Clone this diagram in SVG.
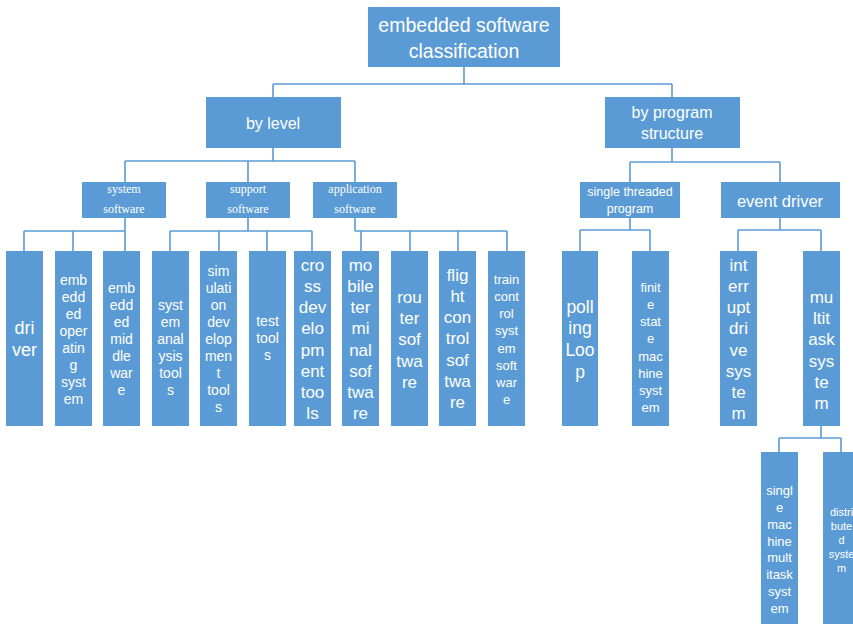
<svg xmlns="http://www.w3.org/2000/svg" width="853" height="624" viewBox="0 0 853 624">
<style>
.b{fill:#5B9BD5}
.t{fill:#fff;font-family:"Liberation Sans",Arial,sans-serif;text-anchor:middle;dominant-baseline:central}
.s{fill:#fff;font-family:"Liberation Serif","Times New Roman",serif;text-anchor:middle;dominant-baseline:central;font-size:12px}
.c{fill:none;stroke:#5B9BD5;stroke-width:1.6}
</style>
<rect width="853" height="624" fill="#fff"/>
<g id="connectors">
<path class="c" d="M464 67V84M273 84H672M273 84V97M672 84V97"/>
<path class="c" d="M273 148V161M125 161H355M125 161V182M248 161V182M355 161V182"/>
<path class="c" d="M672 148V162M630 162H780M630 162V182M780 162V182"/>
<path class="c" d="M125 218V251M24 231H125M24 231V251M73 231V251"/>
<path class="c" d="M248 218V231M170 231H312M170 231V251M219 231V251M267 231V251M312 231V251"/>
<path class="c" d="M355 218V231M355 231H507M361 231V251M410 231V251M458 231V251M507 231V251"/>
<path class="c" d="M630 218V230M580 230H650M580 230V251M650 230V251"/>
<path class="c" d="M780 218V230M738 230H821M738 230V251M821 230V251"/>
<path class="c" d="M821 426V438M779 438H841M779 438V452M841 438V452"/>
</g>
<g id="root"><rect class="b" x="368" y="7" width="192" height="60"/>
<text class="t" font-size="19.5" x="464"><tspan x="464" y="25">embedded software</tspan><tspan x="464" y="51">classification</tspan></text></g>
<g id="bylevel"><rect class="b" x="206" y="97" width="135" height="51"/>
<text class="t" font-size="16" x="273" y="123">by level</text></g>
<g id="byprogram"><rect class="b" x="605" y="97" width="135" height="51"/>
<text class="t" font-size="16"><tspan x="672" y="112">by program</tspan><tspan x="672" y="133">structure</tspan></text></g>
<g id="system"><rect class="b" x="82" y="182" width="84" height="36"/>
<text class="s"><tspan x="124" y="189">system</tspan><tspan x="124" y="209">software</tspan></text></g>
<g id="support"><rect class="b" x="206" y="182" width="84" height="36"/>
<text class="s"><tspan x="248" y="189">support</tspan><tspan x="248" y="209">software</tspan></text></g>
<g id="application"><rect class="b" x="313" y="182" width="84" height="36"/>
<text class="s"><tspan x="355" y="189">application</tspan><tspan x="355" y="209">software</tspan></text></g>
<g id="single"><rect class="b" x="580" y="182" width="100" height="36"/>
<text class="t" font-size="12.5"><tspan x="630" y="192">single threaded</tspan><tspan x="630" y="209">program</tspan></text></g>
<g id="event"><rect class="b" x="721" y="182" width="119" height="36"/>
<text class="t" font-size="16.5" x="780" y="201">event driver</text></g>

<g id="driver"><rect class="b" x="6" y="251" width="37" height="175"/>
<text class="t" font-size="18"><tspan x="24.5" y="328">dri</tspan><tspan x="24.5" y="350">ver</tspan></text></g>
<g id="embos"><rect class="b" x="55" y="251" width="37" height="175"/>
<text class="t" font-size="14"><tspan x="73.5" y="280">emb</tspan><tspan x="73.5" y="297">edd</tspan><tspan x="73.5" y="314">ed</tspan><tspan x="73.5" y="331">oper</tspan><tspan x="73.5" y="348">atin</tspan><tspan x="73.5" y="365">g</tspan><tspan x="73.5" y="382">syst</tspan><tspan x="73.5" y="399">em</tspan></text></g>
<g id="embmw"><rect class="b" x="103" y="251" width="37" height="175"/>
<text class="t" font-size="14"><tspan x="121.5" y="288">emb</tspan><tspan x="121.5" y="305">edd</tspan><tspan x="121.5" y="322">ed</tspan><tspan x="121.5" y="339">mid</tspan><tspan x="121.5" y="356">dle</tspan><tspan x="121.5" y="373">war</tspan><tspan x="121.5" y="390">e</tspan></text></g>
<g id="sysanal"><rect class="b" x="152" y="251" width="37" height="175"/>
<text class="t" font-size="14"><tspan x="170.5" y="305">syst</tspan><tspan x="170.5" y="322">em</tspan><tspan x="170.5" y="339">anal</tspan><tspan x="170.5" y="356">ysis</tspan><tspan x="170.5" y="373">tool</tspan><tspan x="170.5" y="390">s</tspan></text></g>
<g id="simdev"><rect class="b" x="200" y="251" width="37" height="175"/>
<text class="t" font-size="14"><tspan x="218.5" y="271">sim</tspan><tspan x="218.5" y="288">ulati</tspan><tspan x="218.5" y="305">on</tspan><tspan x="218.5" y="322">dev</tspan><tspan x="218.5" y="339">elop</tspan><tspan x="218.5" y="356">men</tspan><tspan x="218.5" y="373">t</tspan><tspan x="218.5" y="390">tool</tspan><tspan x="218.5" y="407">s</tspan></text></g>
<g id="test"><rect class="b" x="249" y="251" width="37" height="175"/>
<text class="t" font-size="14"><tspan x="267.5" y="321">test</tspan><tspan x="267.5" y="338">tool</tspan><tspan x="267.5" y="355">s</tspan></text></g>
<g id="cross"><rect class="b" x="294" y="251" width="37" height="175"/>
<text class="t" font-size="17"><tspan x="312.5" y="265">cro</tspan><tspan x="312.5" y="286">ss</tspan><tspan x="312.5" y="307">dev</tspan><tspan x="312.5" y="328">elo</tspan><tspan x="312.5" y="350">pm</tspan><tspan x="312.5" y="371">ent</tspan><tspan x="312.5" y="392">too</tspan><tspan x="312.5" y="413">ls</tspan></text></g>
<g id="mobile"><rect class="b" x="342" y="251" width="37" height="175"/>
<text class="t" font-size="17"><tspan x="360.5" y="265">mo</tspan><tspan x="360.5" y="286">bile</tspan><tspan x="360.5" y="307">ter</tspan><tspan x="360.5" y="328">mi</tspan><tspan x="360.5" y="350">nal</tspan><tspan x="360.5" y="371">sof</tspan><tspan x="360.5" y="392">twa</tspan><tspan x="360.5" y="413">re</tspan></text></g>
<g id="router"><rect class="b" x="391" y="251" width="37" height="175"/>
<text class="t" font-size="17"><tspan x="409.5" y="297">rou</tspan><tspan x="409.5" y="318">ter</tspan><tspan x="409.5" y="339">sof</tspan><tspan x="409.5" y="361">twa</tspan><tspan x="409.5" y="382">re</tspan></text></g>
<g id="flight"><rect class="b" x="439" y="251" width="37" height="175"/>
<text class="t" font-size="17"><tspan x="457.5" y="275">flig</tspan><tspan x="457.5" y="296">ht</tspan><tspan x="457.5" y="317">con</tspan><tspan x="457.5" y="338">trol</tspan><tspan x="457.5" y="360">sof</tspan><tspan x="457.5" y="381">twa</tspan><tspan x="457.5" y="402">re</tspan></text></g>
<g id="train"><rect class="b" x="488" y="251" width="37" height="175"/>
<text class="t" font-size="13"><tspan x="506.5" y="279">train</tspan><tspan x="506.5" y="296">cont</tspan><tspan x="506.5" y="313">rol</tspan><tspan x="506.5" y="330">syst</tspan><tspan x="506.5" y="348">em</tspan><tspan x="506.5" y="365">soft</tspan><tspan x="506.5" y="382">war</tspan><tspan x="506.5" y="399">e</tspan></text></g>
<g id="polling"><rect class="b" x="562" y="251" width="36" height="175"/>
<text class="t" font-size="17.5"><tspan x="580" y="307">poll</tspan><tspan x="580" y="328">ing</tspan><tspan x="580" y="350">Loo</tspan><tspan x="580" y="372">p</tspan></text></g>
<g id="finite"><rect class="b" x="632" y="251" width="37" height="175"/>
<text class="t" font-size="13"><tspan x="650.5" y="287">finit</tspan><tspan x="650.5" y="304">e</tspan><tspan x="650.5" y="321">stat</tspan><tspan x="650.5" y="338">e</tspan><tspan x="650.5" y="356">mac</tspan><tspan x="650.5" y="373">hine</tspan><tspan x="650.5" y="390">syst</tspan><tspan x="650.5" y="407">em</tspan></text></g>
<g id="interrupt"><rect class="b" x="720" y="251" width="37" height="175"/>
<text class="t" font-size="17"><tspan x="738.5" y="265">int</tspan><tspan x="738.5" y="286">err</tspan><tspan x="738.5" y="307">upt</tspan><tspan x="738.5" y="328">dri</tspan><tspan x="738.5" y="350">ve</tspan><tspan x="738.5" y="371">sys</tspan><tspan x="738.5" y="392">te</tspan><tspan x="738.5" y="413">m</tspan></text></g>
<g id="multitask"><rect class="b" x="803" y="251" width="37" height="175"/>
<text class="t" font-size="17"><tspan x="821.5" y="297">mu</tspan><tspan x="821.5" y="318">ltit</tspan><tspan x="821.5" y="339">ask</tspan><tspan x="821.5" y="361">sys</tspan><tspan x="821.5" y="382">te</tspan><tspan x="821.5" y="403">m</tspan></text></g>
<g id="singlemachine"><rect class="b" x="761" y="452" width="37" height="172"/>
<text class="t" font-size="13"><tspan x="779.5" y="490">singl</tspan><tspan x="779.5" y="507">e</tspan><tspan x="779.5" y="524">mac</tspan><tspan x="779.5" y="541">hine</tspan><tspan x="779.5" y="557">mult</tspan><tspan x="779.5" y="574">itask</tspan><tspan x="779.5" y="591">syst</tspan><tspan x="779.5" y="608">em</tspan></text></g>
<g id="distributed"><rect class="b" x="823" y="452" width="37" height="172"/>
<text class="t" font-size="11"><tspan x="841.5" y="512">distri</tspan><tspan x="841.5" y="526">bute</tspan><tspan x="841.5" y="540">d</tspan><tspan x="841.5" y="554">syste</tspan><tspan x="841.5" y="568">m</tspan></text></g>
</svg>
